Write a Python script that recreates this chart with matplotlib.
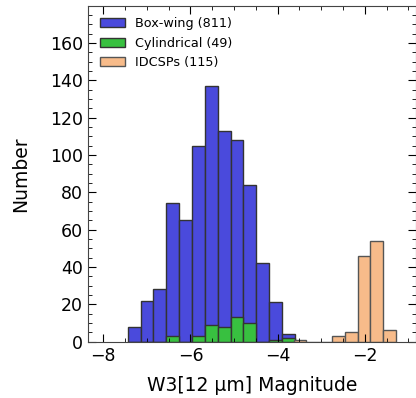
import numpy as np
import matplotlib
matplotlib.use('Agg')
import matplotlib.pyplot as plt
from matplotlib.ticker import MultipleLocator

# histogram counts, one entry per bin
box_counts = [8, 22, 28, 74, 65, 105, 137, 113, 108, 84, 42, 21, 4]
cyl_counts = [0, 0, 0, 3, 0, 3, 9, 8, 13, 10, 0, 1, 2]
idc_counts = [1, 0, 0, 3, 5, 46, 54, 6]

# bin edges (W3 magnitude)
box_edges = np.linspace(-7.44, -3.605, len(box_counts) + 1)
idc_edges = np.linspace(-3.635, -1.287, len(idc_counts) + 1)

labels = ['Box-wing (811)', 'Cylindrical (49)', 'IDCSPs (115)']
colors = ['#4a4adc', '#38c040', '#f7bb8a']

fig = plt.figure(figsize=(4.16, 3.98), dpi=100)
ax = fig.add_axes([88 / 416, 56.3 / 398, 327.5 / 416, 336 / 398])

ax.hist(box_edges[:-1], bins=box_edges, weights=box_counts, color=colors[0],
        edgecolor='#333333', linewidth=1, label=labels[0])
ax.hist(box_edges[:-1], bins=box_edges, weights=cyl_counts, color=colors[1],
        edgecolor='#333333', linewidth=1, label=labels[1])
ax.hist(idc_edges[:-1], bins=idc_edges, weights=idc_counts, color=colors[2],
        edgecolor='#555555', linewidth=1, label=labels[2])

ax.set_xlim(-8.351, -0.839)
ax.set_ylim(0, 179.9)
ax.xaxis.set_major_locator(MultipleLocator(2))
ax.xaxis.set_minor_locator(MultipleLocator(0.5))
ax.yaxis.set_major_locator(MultipleLocator(20))
ax.yaxis.set_minor_locator(MultipleLocator(5))
ax.tick_params(which='both', direction='in', top=True, right=True, labelsize=12.5)
ax.tick_params(which='major', length=6)
ax.tick_params(which='minor', length=3)
for s in ax.spines.values():
    s.set_color('#444444')

ax.set_xlabel('W3[12 μm] Magnitude', fontsize=13.5, labelpad=8)
ax.set_ylabel('Number', fontsize=13.5, labelpad=14)
ax.legend(loc='upper left', frameon=False, fontsize=9.2)

fig.savefig('out.png', dpi=100)
